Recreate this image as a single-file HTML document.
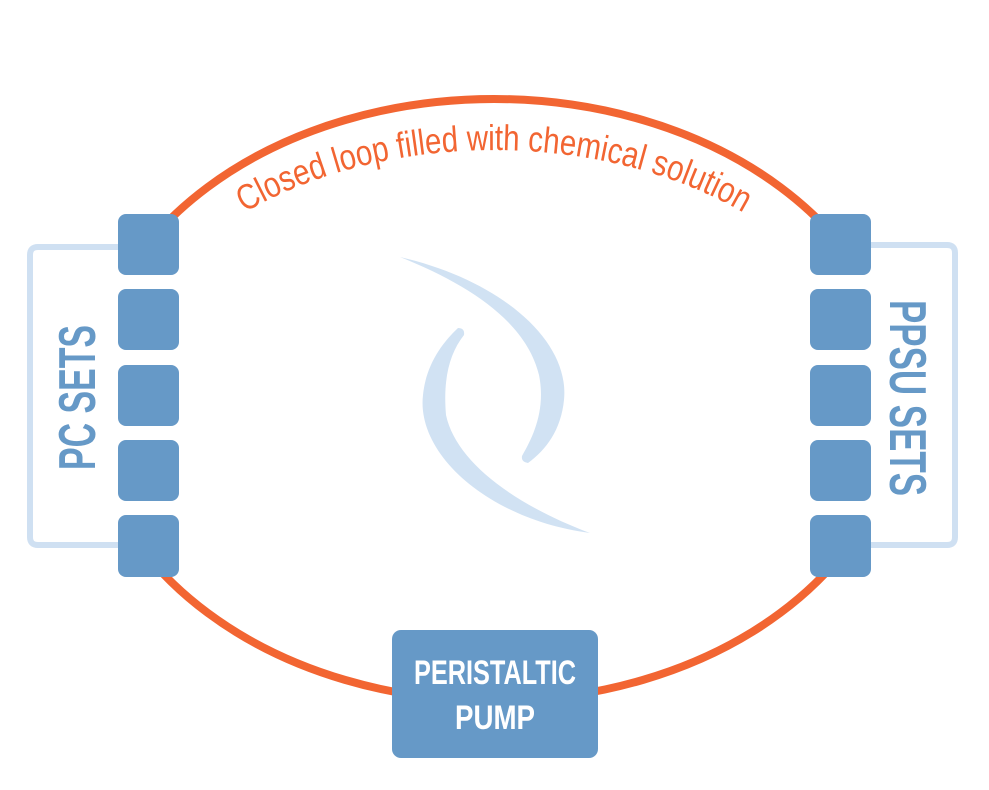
<!DOCTYPE html>
<html><head><meta charset="utf-8"><style>
html,body{margin:0;padding:0;background:#fff;}
svg{display:block;}
</style></head><body>
<svg width="989" height="790" viewBox="0 0 989 790" xmlns="http://www.w3.org/2000/svg">
<defs>
<clipPath id="c"><rect x="0" y="0" width="989" height="240"/><rect x="0" y="550" width="989" height="240"/></clipPath>
<path id="arc" d="M 117,400 A 377,250 0 0 1 871,400" fill="none"/>
</defs>
<ellipse cx="494" cy="400" rx="405" ry="301" fill="none" stroke="#f26532" stroke-width="8" clip-path="url(#c)"/>
<text font-family="'Liberation Sans Narrow','Liberation Sans',sans-serif" font-size="36" fill="#f26532"><textPath href="#arc" startOffset="50%" text-anchor="middle" textLength="520" lengthAdjust="spacingAndGlyphs">Closed loop filled with chemical solution</textPath></text>
<!-- brackets -->
<path d="M118,247 H38 Q30,247 30,255 V537 Q30,545 38,545 H118" fill="none" stroke="#cfe0f2" stroke-width="6"/>
<path d="M870,245 H947 Q955,245 955,253 V537 Q955,545 947,545 H870" fill="none" stroke="#cfe0f2" stroke-width="6"/>
<!-- squares -->
<g fill="#6699c7">
<rect x="118" y="214" width="61" height="61" rx="8"/>
<rect x="118" y="289" width="61" height="61" rx="8"/>
<rect x="118" y="365" width="61" height="61" rx="8"/>
<rect x="118" y="440" width="61" height="61" rx="8"/>
<rect x="118" y="515" width="61" height="62" rx="8"/>
<rect x="810" y="214" width="61" height="61" rx="8"/>
<rect x="810" y="289" width="61" height="61" rx="8"/>
<rect x="810" y="365" width="61" height="61" rx="8"/>
<rect x="810" y="440" width="61" height="61" rx="8"/>
<rect x="810" y="515" width="61" height="62" rx="8"/>
<rect x="392" y="630" width="206" height="128" rx="9"/>
</g>
<text transform="translate(95,470) rotate(-90)" font-family="'Liberation Sans Narrow','Liberation Sans',sans-serif" font-weight="bold" font-size="52" fill="#6699c7" textLength="145" lengthAdjust="spacingAndGlyphs">PC SETS</text>
<text transform="translate(890,300) rotate(90)" font-family="'Liberation Sans Narrow','Liberation Sans',sans-serif" font-weight="bold" font-size="52" fill="#6699c7" textLength="196" lengthAdjust="spacingAndGlyphs">PPSU SETS</text>
<g font-family="'Liberation Sans Narrow','Liberation Sans',sans-serif" font-weight="bold" font-size="34" fill="#fff" text-anchor="middle">
<text x="495" y="684" textLength="162" lengthAdjust="spacingAndGlyphs">PERISTALTIC</text>
<text x="495" y="729" textLength="80" lengthAdjust="spacingAndGlyphs">PUMP</text>
</g>
<!-- crescents -->
<g fill="#d1e2f3">
<path d="M400,257 C500,280 570,340 564,400 C561,430 546,450 528,463 Q521,462 522,456 C533,437 546,410 539,375 C526,322 470,285 400,257 Z"/>
<path d="M590,533 C490,520 416,455 423,395 C426,365 442,343 458,328 Q465,328 464,335 C449,354 443,380 446,415 C456,462 515,505 590,533 Z"/>
</g>
</svg>
</body></html>
